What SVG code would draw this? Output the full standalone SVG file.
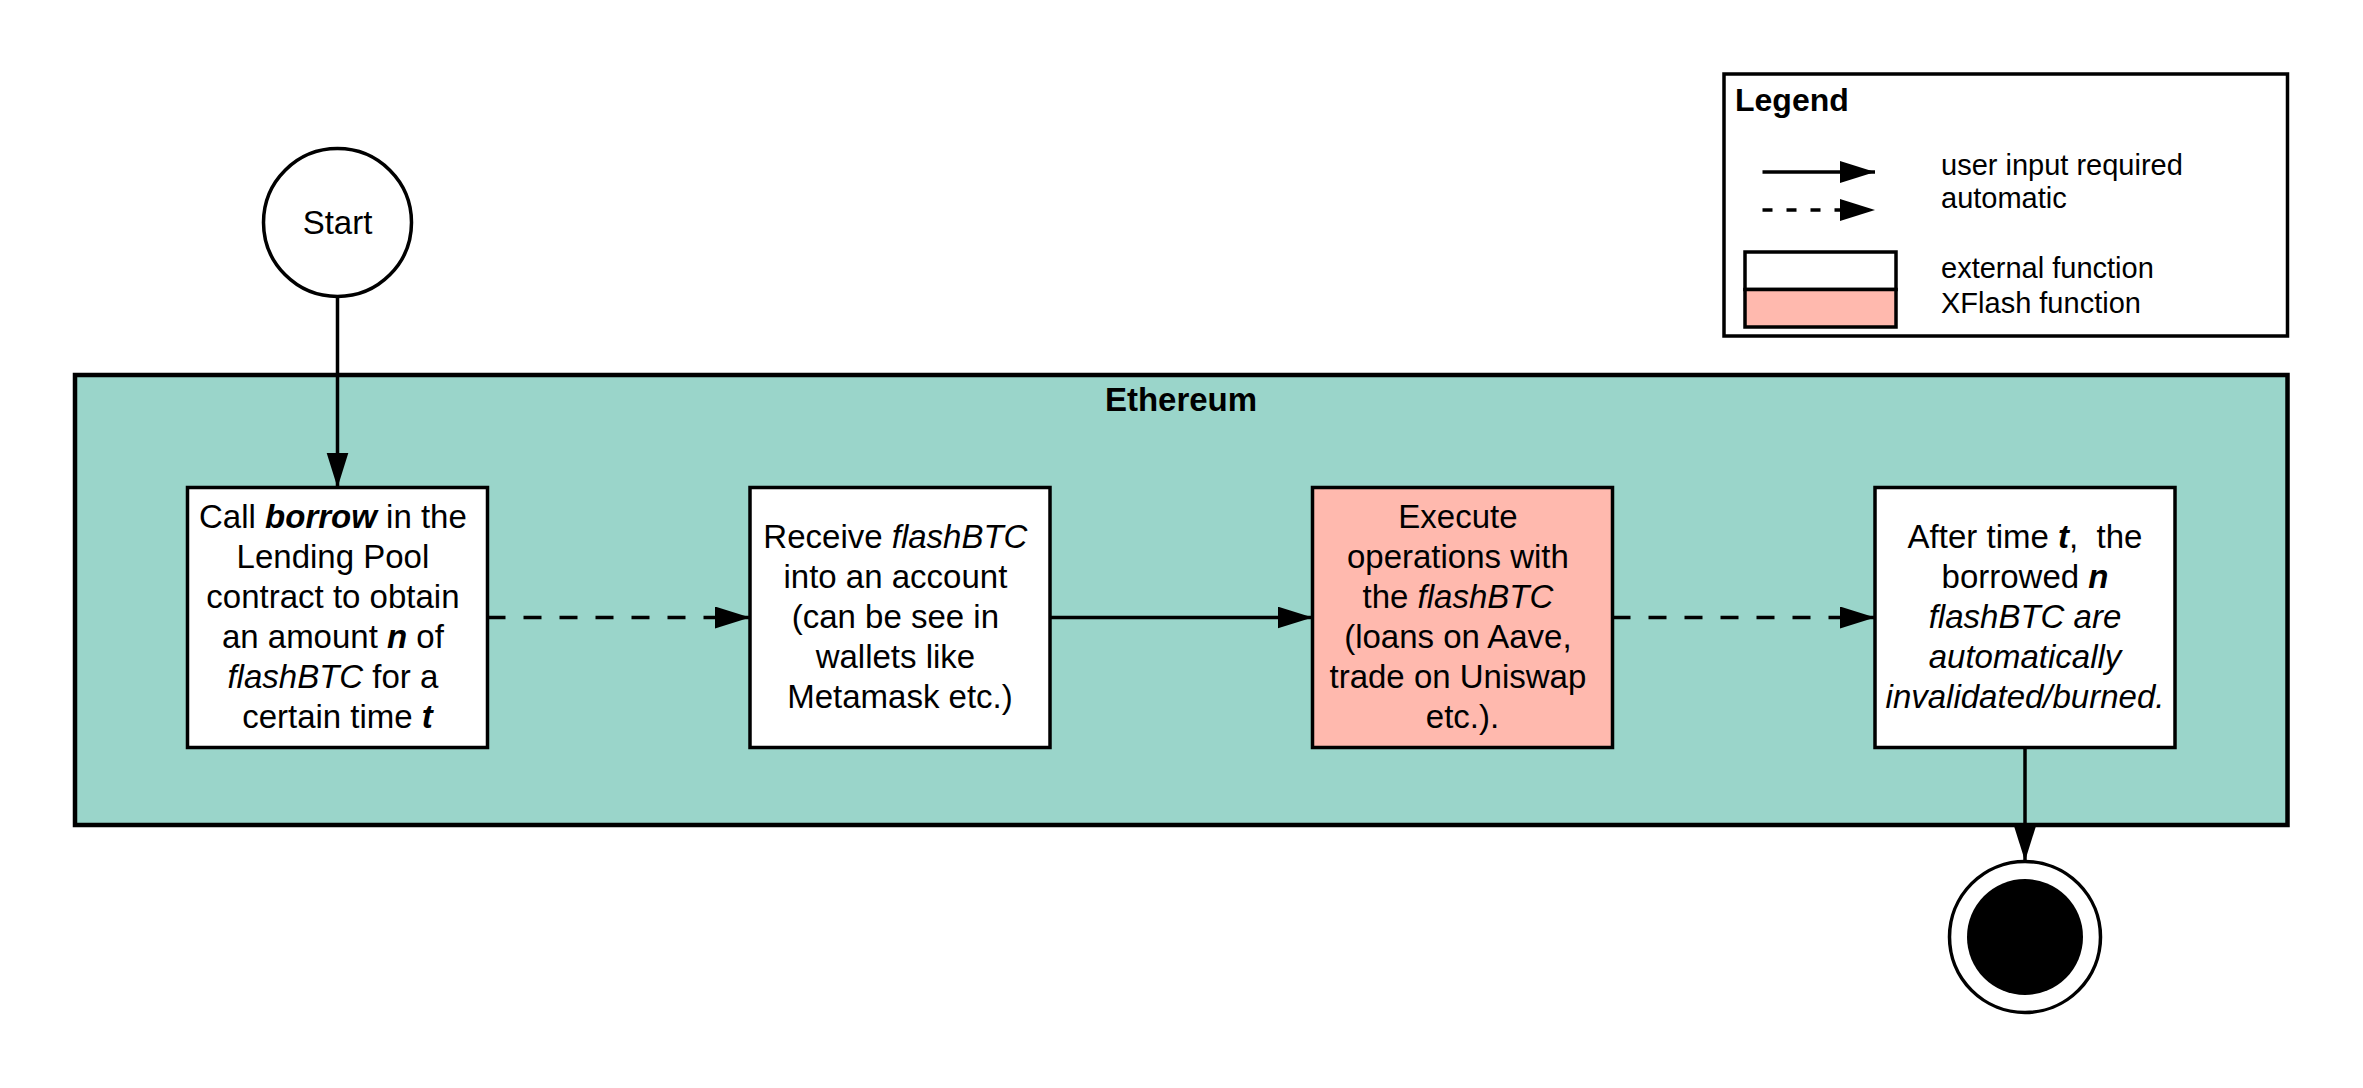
<svg xmlns="http://www.w3.org/2000/svg" width="2363" height="1088" viewBox="0 0 2363 1088">
<style>
  text { font-family: "Liberation Sans", Arial, sans-serif; fill: #000; }
  .t { font-size: 33px; text-anchor: middle; }
  .lg { font-size: 29px; }
  .b { font-weight: bold; }
  .i { font-style: italic; }
  .bi { font-weight: bold; font-style: italic; }
  .box { fill: #ffffff; stroke: #000; stroke-width: 3.5; }
  .xf { fill: #ffb9ae; stroke: #000; stroke-width: 3.5; }
  .edge { fill: none; stroke: #000; stroke-width: 3.5; marker-end: url(#arr); }
  .dash { stroke-dasharray: 18 18; }
</style>
<defs>
  <marker id="arr" markerUnits="userSpaceOnUse" markerWidth="36" markerHeight="24" refX="35" refY="11" orient="auto">
    <path d="M0,0 L35,11 L0,22 Z" fill="#000"/>
  </marker>
</defs>
<rect width="2363" height="1088" fill="#ffffff"/>

<g id="legend">
  <rect x="1724" y="74" width="563.5" height="262" fill="#fff" stroke="#000" stroke-width="3.5"/>
  <text x="1735" y="111" class="b" font-size="32">Legend</text>
  <line x1="1762.5" y1="172" x2="1875" y2="172" class="edge"/>
  <line x1="1762.5" y1="210" x2="1875" y2="210" class="edge" stroke-dasharray="10 14"/>
  <text x="1941" y="175" class="lg">user input required</text>
  <text x="1941" y="208" class="lg">automatic</text>
  <rect x="1745" y="252" width="151" height="37.5" class="box"/>
  <rect x="1745" y="289.5" width="151" height="37.5" class="xf"/>
  <text x="1941" y="278" class="lg">external function</text>
  <text x="1941" y="313" class="lg">XFlash function</text>
</g>

<g id="ethereum">
  <rect x="75" y="375" width="2212.5" height="450" fill="#9ad5ca" stroke="#000" stroke-width="4.5"/>
  <text x="1181" y="411" class="t b">Ethereum</text>
</g>

<g id="start">
  <circle cx="337.5" cy="222.5" r="74" fill="#fff" stroke="#000" stroke-width="3.5"/>
  <text x="337.5" y="234" class="t">Start</text>
</g>

<g id="borrow">
  <rect x="187.5" y="487.5" width="300" height="260" class="box"/>
  <text class="t">
    <tspan x="337.5" y="528">Call <tspan class="bi">borrow</tspan> in the</tspan>
    <tspan x="337.5" y="568">Lending Pool</tspan>
    <tspan x="337.5" y="608">contract to obtain</tspan>
    <tspan x="337.5" y="648">an amount <tspan class="bi">n</tspan> of</tspan>
    <tspan x="337.5" y="688"><tspan class="i">flashBTC</tspan> for a</tspan>
    <tspan x="337.5" y="728">certain time <tspan class="bi">t</tspan></tspan>
  </text>
</g>

<g id="receive">
  <rect x="750" y="487.5" width="300" height="260" class="box"/>
  <text class="t">
    <tspan x="900" y="548">Receive <tspan class="i">flashBTC</tspan></tspan>
    <tspan x="900" y="588">into an account</tspan>
    <tspan x="900" y="628">(can be see in</tspan>
    <tspan x="900" y="668">wallets like</tspan>
    <tspan x="900" y="708">Metamask etc.)</tspan>
  </text>
</g>

<g id="execute">
  <rect x="1312.5" y="487.5" width="300" height="260" class="xf"/>
  <text class="t">
    <tspan x="1462.5" y="528">Execute</tspan>
    <tspan x="1462.5" y="568">operations with</tspan>
    <tspan x="1462.5" y="608">the <tspan class="i">flashBTC</tspan></tspan>
    <tspan x="1462.5" y="648">(loans on Aave,</tspan>
    <tspan x="1462.5" y="688">trade on Uniswap</tspan>
    <tspan x="1462.5" y="728">etc.).</tspan>
  </text>
</g>

<g id="burn">
  <rect x="1875" y="487.5" width="300" height="260" class="box"/>
  <text class="t" xml:space="preserve"><tspan x="2025" y="548">After time <tspan class="bi">t</tspan>,  the</tspan><tspan x="2025" y="588">borrowed <tspan class="bi">n</tspan></tspan><tspan x="2025" y="628" class="i">flashBTC are</tspan><tspan x="2025" y="668" class="i">automatically</tspan><tspan x="2025" y="708" class="i">invalidated/burned.</tspan></text>
</g>

<g id="end">
  <circle cx="2025" cy="937" r="75.5" fill="#fff" stroke="#000" stroke-width="3.5"/>
  <circle cx="2025" cy="937" r="58" fill="#000"/>
</g>

<g id="connectors">
  <line x1="337.5" y1="297" x2="337.5" y2="487.5" class="edge"/>
  <line x1="487.5" y1="617.5" x2="750" y2="617.5" class="edge dash"/>
  <line x1="1050" y1="617.5" x2="1312.5" y2="617.5" class="edge"/>
  <line x1="1612.5" y1="617.5" x2="1875" y2="617.5" class="edge dash"/>
  <line x1="2025" y1="747.5" x2="2025" y2="861" class="edge"/>
</g>
</svg>
